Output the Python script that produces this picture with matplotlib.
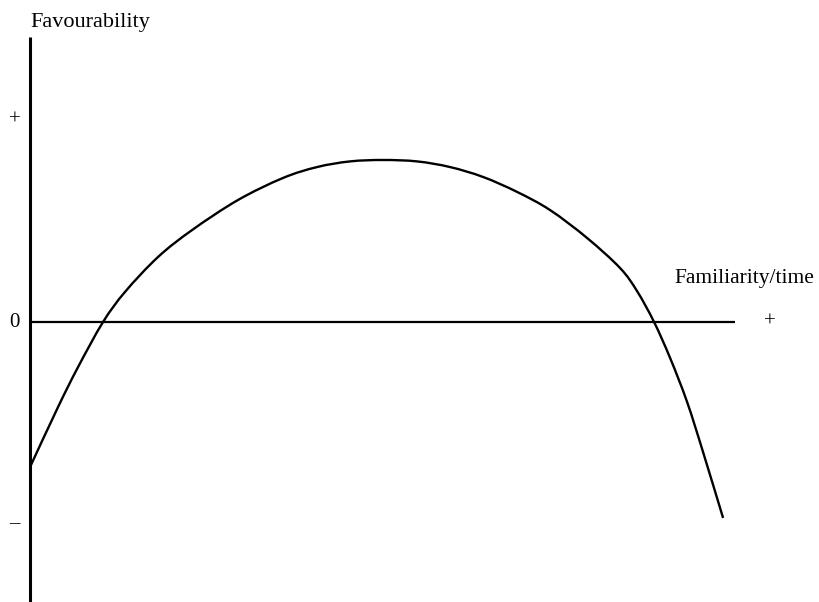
import matplotlib
matplotlib.use("Agg")
import matplotlib.pyplot as plt
from matplotlib.path import Path
from matplotlib.patches import PathPatch

# curve (familiarity 0..100, favourability -1..+1)
familiarity = [0, 4.0, 6.86, 10.43, 13.57, 18.29, 23.14, 29.71, 36.14, 41.0, 45.71,
               50.43, 55.29, 60.0, 64.71, 69.57, 74.29, 79.57, 84.29, 86.71, 89.14,
               91.43, 93.86, 96.14, 99.0]
favourability = [-0.718, -0.421, -0.223, 0.0, 0.149, 0.322, 0.455, 0.604, 0.713,
                 0.767, 0.795, 0.802, 0.795, 0.767, 0.718, 0.644, 0.554, 0.416,
                 0.267, 0.153, 0.0, -0.178, -0.396, -0.644, -0.970]

y_ticks = [1, 0, -1]
y_tick_labels = ["+", "0", "\u2013"]


def smooth_path(xs, ys):
    # catmull-rom through the read points, drawn as cubic bezier pieces
    pts = list(zip(xs, ys))
    verts = [pts[0]]
    codes = [Path.MOVETO]
    for i in range(len(pts) - 1):
        p0 = pts[i - 1] if i > 0 else pts[i]
        p1 = pts[i]
        p2 = pts[i + 1]
        p3 = pts[i + 2] if i + 2 < len(pts) else pts[i + 1]
        c1 = (p1[0] + (p2[0] - p0[0]) / 6, p1[1] + (p2[1] - p0[1]) / 6)
        c2 = (p2[0] - (p3[0] - p1[0]) / 6, p2[1] - (p3[1] - p1[1]) / 6)
        verts += [c1, c2, p2]
        codes += [Path.CURVE4] * 3
    return Path(verts, codes)


plt.rcParams['font.family'] = ['Liberation Serif', 'DejaVu Serif']

fig = plt.figure(figsize=(8.19, 6.02), dpi=100)
ax = fig.add_axes([0, 0, 1, 1])
ax.set_xlim(-4.29, 112.7)
ax.set_ylim(-1.386, 1.594)

# axes drawn as lines through the origin
ax.plot([0, 0], [-1.386, 1.41], color='black', lw=2.2, solid_capstyle='butt')
ax.plot([0, 100.7], [0, 0], color='black', lw=1.6, solid_capstyle='butt')

ax.add_patch(PathPatch(smooth_path(familiarity, favourability), facecolor='none',
                       edgecolor='black', lw=1.7))

for v, lab in zip(y_ticks, y_tick_labels):
    ax.text(-2.2, v, lab, ha='center', va='center', fontsize=15)
ax.text(105.7, 0, "+", ha='center', va='center', fontsize=15)

ax.text(0, 1.46, "Favourability", ha='left', va='baseline', fontsize=16)
ax.text(92.0, 0.193, "Familiarity/time", ha='left', va='baseline', fontsize=15.5)

ax.axis('off')
fig.savefig("out.png", dpi=100)
